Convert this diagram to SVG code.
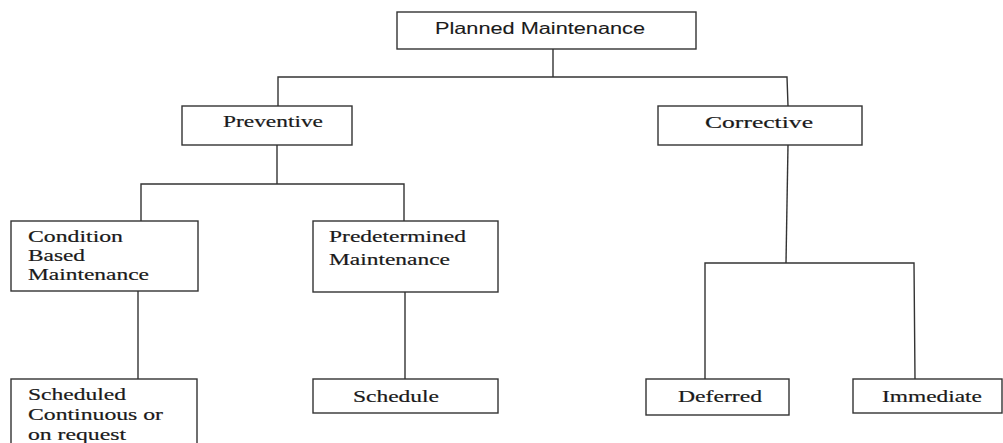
<svg xmlns="http://www.w3.org/2000/svg" width="1003" height="443" viewBox="0 0 1003 443">
  <style>
    .box { fill: #ffffff; stroke: #333333; stroke-width: 1.4; }
    .wire { fill: none; stroke: #333333; stroke-width: 1.4; }
    .serif { font-family: "Liberation Serif", "Times New Roman", serif; font-size: 17px; fill: #1a1a1a; stroke: #1a1a1a; stroke-width: 0.2; }
    .sans { font-family: "Liberation Sans", Arial, sans-serif; font-size: 16.5px; fill: #1a1a1a; stroke: #1a1a1a; stroke-width: 0.1; }
  </style>
  <rect width="1003" height="443" fill="#ffffff"/>

  <!-- tree connectors -->
  <g id="connectors" class="wire">
    <path d="M553,49 V77"/>
    <path d="M278,106 V77 H787 L788,106"/>
    <path d="M277,145 V184"/>
    <path d="M141,221 V184 H404 V221"/>
    <path d="M788,145 L786,263"/>
    <path d="M705,379 V263 H914 L915,379"/>
    <path d="M138,291 V379"/>
    <path d="M405,292 V379"/>
  </g>

  <g id="planned">
    <rect class="box" x="397" y="12" width="299" height="37"/>
    <text class="sans" x="435" y="34" textLength="210" lengthAdjust="spacingAndGlyphs">Planned Maintenance</text>
  </g>

  <g id="preventive">
    <rect class="box" x="182" y="106" width="170" height="39"/>
    <text class="serif" x="223" y="127" textLength="100" lengthAdjust="spacingAndGlyphs">Preventive</text>
  </g>

  <g id="corrective">
    <rect class="box" x="658" y="106" width="204" height="39"/>
    <text class="serif" x="705" y="128" textLength="108" lengthAdjust="spacingAndGlyphs">Corrective</text>
  </g>

  <g id="condition-based">
    <rect class="box" x="11" y="221" width="187" height="70"/>
    <text class="serif" x="28" y="242" textLength="95" lengthAdjust="spacingAndGlyphs">Condition</text>
    <text class="serif" x="28" y="261" textLength="57" lengthAdjust="spacingAndGlyphs">Based</text>
    <text class="serif" x="28" y="280" textLength="121" lengthAdjust="spacingAndGlyphs">Maintenance</text>
  </g>

  <g id="predetermined">
    <rect class="box" x="313" y="221" width="185" height="71"/>
    <text class="serif" x="329" y="242" textLength="137" lengthAdjust="spacingAndGlyphs">Predetermined</text>
    <text class="serif" x="329" y="265" textLength="121" lengthAdjust="spacingAndGlyphs">Maintenance</text>
  </g>

  <g id="scheduled-continuous">
    <rect class="box" x="11" y="379" width="186" height="70"/>
    <text class="serif" x="28" y="400" textLength="98" lengthAdjust="spacingAndGlyphs">Scheduled</text>
    <text class="serif" x="28" y="420" textLength="135" lengthAdjust="spacingAndGlyphs">Continuous or</text>
    <text class="serif" x="28" y="440" textLength="98" lengthAdjust="spacingAndGlyphs">on request</text>
  </g>

  <g id="schedule">
    <rect class="box" x="313" y="379" width="185" height="34"/>
    <text class="serif" x="353" y="402" textLength="86" lengthAdjust="spacingAndGlyphs">Schedule</text>
  </g>

  <g id="deferred">
    <rect class="box" x="646" y="379" width="143" height="36"/>
    <text class="serif" x="678" y="402" textLength="84" lengthAdjust="spacingAndGlyphs">Deferred</text>
  </g>

  <g id="immediate">
    <rect class="box" x="853" y="379" width="149" height="34"/>
    <text class="serif" x="882" y="402" textLength="100" lengthAdjust="spacingAndGlyphs">Immediate</text>
  </g>
</svg>
